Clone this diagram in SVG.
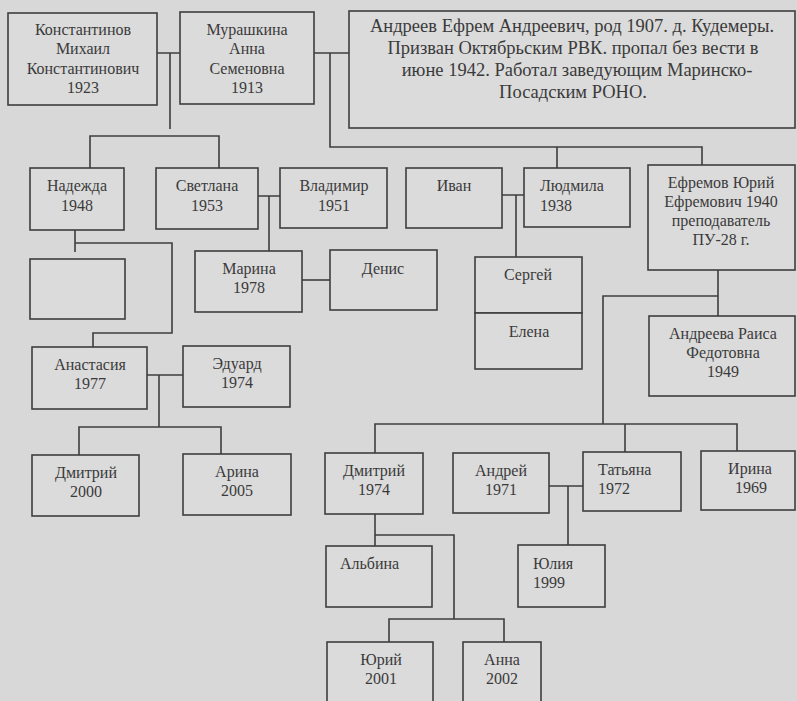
<svg xmlns="http://www.w3.org/2000/svg" width="797" height="701" viewBox="0 0 797 701">
<style>
.bg{fill:#d8d8d8}
.box{fill:#dbdbdb;stroke:#3e3e3e;stroke-width:1.6}
.t{font-family:"Liberation Serif","Times New Roman",serif;font-size:16px;fill:#3a3a3a;text-anchor:middle}
.big{font-size:18.5px}
.l{text-anchor:start}
.c{fill:none;stroke:#3e3e3e;stroke-width:1.6}
</style>
<rect class="bg" x="0" y="0" width="797" height="701"/>
<g id="connectors">
<path class="c" d="M157,53 H180 M170,53 V129"/>
<path class="c" d="M90,168 V136 H219 V168"/>
<path class="c" d="M314,53 H349 M330,53 V147 H702 V165 M557,147 V168"/>
<path class="c" d="M258,196 H280 M269,196 V251"/>
<path class="c" d="M502,195 H524 M516,195 V257"/>
<path class="c" d="M302,280 H330"/>
<path class="c" d="M75,230 V252 M75,243 H172 V333 H93 V347"/>
<path class="c" d="M147,375 H183 M159,375 V427 M79,455 V427 H221 V454"/>
<path class="c" d="M718,270 V316 M718,296 H603 V424 M375,453 V424 H737 V451 M625,424 V452"/>
<path class="c" d="M549,486 H583 M568,486 V545"/>
<path class="c" d="M375,514 V546 M375,535 H454 V619 M389,642 V619 H504 V642"/>
</g>
<g id="konstantinov"><rect class="box" x="8" y="13" width="149" height="92"/>
<text class="t" x="83" y="35">Константинов</text><text class="t" x="83" y="54">Михаил</text><text class="t" x="83" y="74">Константинович</text><text class="t" x="83" y="93">1923</text></g>
<g id="muryashkina"><rect class="box" x="180" y="12" width="134" height="92"/>
<text class="t" x="247" y="35">Мурашкина</text><text class="t" x="247" y="54">Анна</text><text class="t" x="247" y="74">Семеновна</text><text class="t" x="247" y="93">1913</text></g>
<g id="andreev"><rect class="box" x="349" y="11" width="446" height="117"/>
<text class="t big" x="572" y="32">Андреев Ефрем Андреевич, род 1907. д. Кудемеры.</text>
<text class="t big" x="573" y="54">Призван Октябрьским РВК. пропал без вести в</text>
<text class="t big" x="577" y="76">июне 1942. Работал  заведующим Маринско-</text>
<text class="t big" x="573" y="98">Посадским РОНО.</text></g>
<g id="nadezhda"><rect class="box" x="30" y="168" width="94" height="62"/>
<text class="t" x="77" y="191">Надежда</text><text class="t" x="77" y="211">1948</text></g>
<g id="svetlana"><rect class="box" x="156" y="168" width="102" height="61"/>
<text class="t" x="207" y="191">Светлана</text><text class="t" x="207" y="211">1953</text></g>
<g id="vladimir"><rect class="box" x="280" y="168" width="107" height="60"/>
<text class="t" x="334" y="191">Владимир</text><text class="t" x="334" y="211">1951</text></g>
<g id="ivan"><rect class="box" x="406" y="168" width="96" height="60"/>
<text class="t" x="454" y="191">Иван</text></g>
<g id="lyudmila"><rect class="box" x="524" y="168" width="106" height="59"/>
<text class="t l" x="540" y="191">Людмила</text><text class="t l" x="540" y="211">1938</text></g>
<g id="efremov"><rect class="box" x="648" y="165" width="147" height="105"/>
<text class="t" x="721" y="188">Ефремов Юрий</text><text class="t" x="721" y="207">Ефремович 1940</text><text class="t" x="721" y="226">преподаватель</text><text class="t" x="721" y="245">ПУ-28 г.</text></g>
<g id="empty"><rect class="box" x="30" y="259" width="95" height="60"/></g>
<g id="marina"><rect class="box" x="195" y="251" width="107" height="61"/>
<text class="t" x="249" y="274">Марина</text><text class="t" x="249" y="293">1978</text></g>
<g id="denis"><rect class="box" x="330" y="250" width="107" height="60"/>
<text class="t" x="383" y="274">Денис</text></g>
<g id="sergei"><rect class="box" x="475" y="257" width="107" height="56"/>
<text class="t" x="528" y="280">Сергей</text></g>
<g id="elena"><rect class="box" x="475" y="313" width="107" height="56"/>
<text class="t" x="529" y="337">Елена</text></g>
<g id="raisa"><rect class="box" x="649" y="316" width="146" height="80"/>
<text class="t" x="723" y="339">Андреева Раиса</text><text class="t" x="723" y="358">Федотовна</text><text class="t" x="723" y="377">1949</text></g>
<g id="anastasia"><rect class="box" x="32" y="347" width="115" height="62"/>
<text class="t" x="90" y="370">Анастасия</text><text class="t" x="90" y="389">1977</text></g>
<g id="eduard"><rect class="box" x="183" y="346" width="107" height="61"/>
<text class="t" x="237" y="369">Эдуард</text><text class="t" x="237" y="388">1974</text></g>
<g id="dmitry2000"><rect class="box" x="32" y="455" width="107" height="61"/>
<text class="t" x="86" y="478">Дмитрий</text><text class="t" x="86" y="497">2000</text></g>
<g id="arina"><rect class="box" x="183" y="454" width="108" height="61"/>
<text class="t" x="237" y="477">Арина</text><text class="t" x="237" y="496">2005</text></g>
<g id="dmitry1974"><rect class="box" x="325" y="453" width="98" height="61"/>
<text class="t" x="374" y="476">Дмитрий</text><text class="t" x="374" y="495">1974</text></g>
<g id="andrei"><rect class="box" x="453" y="453" width="96" height="60"/>
<text class="t" x="501" y="476">Андрей</text><text class="t" x="501" y="495">1971</text></g>
<g id="tatyana"><rect class="box" x="583" y="452" width="98" height="59"/>
<text class="t l" x="598" y="475">Татьяна</text><text class="t l" x="598" y="494">1972</text></g>
<g id="irina"><rect class="box" x="701" y="451" width="94" height="59"/>
<text class="t" x="750" y="474">Ирина</text><text class="t" x="751" y="493">1969</text></g>
<g id="albina"><rect class="box" x="326" y="546" width="106" height="61"/>
<text class="t l" x="340" y="569">Альбина</text></g>
<g id="yulia"><rect class="box" x="518" y="545" width="87" height="62"/>
<text class="t l" x="533" y="569">Юлия</text><text class="t l" x="533" y="588">1999</text></g>
<g id="yuri"><rect class="box" x="327" y="642" width="106" height="64"/>
<text class="t" x="381" y="665">Юрий</text><text class="t" x="381" y="684">2001</text></g>
<g id="anna"><rect class="box" x="463" y="642" width="78" height="64"/>
<text class="t" x="502" y="665">Анна</text><text class="t" x="502" y="684">2002</text></g>
</svg>
